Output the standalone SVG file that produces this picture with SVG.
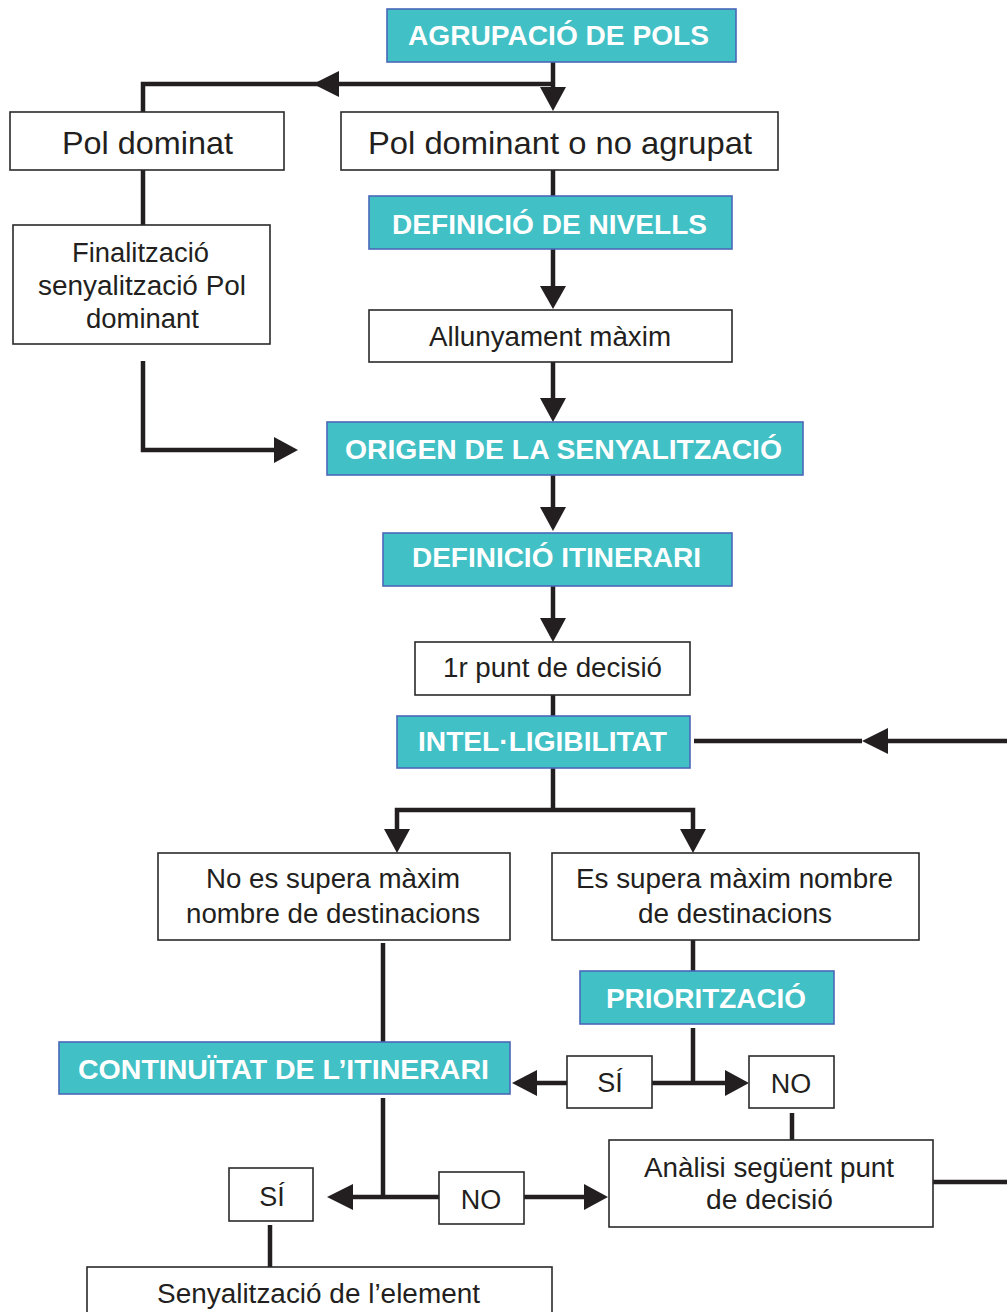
<svg xmlns="http://www.w3.org/2000/svg" width="1007" height="1312" viewBox="0 0 1007 1312">
<style>
.box{fill:#fff;stroke:#2b2a2a;stroke-width:1.6}
.tbox{fill:#41c0c5;stroke:#4a68b8;stroke-width:1.6}
.t{font-family:"Liberation Sans",Arial,sans-serif;font-size:27px;fill:#231f20;text-anchor:middle}
.tb{font-family:"Liberation Sans",Arial,sans-serif;font-size:28px;font-weight:bold;fill:#fff;text-anchor:middle}
.big{font-size:32px}
.ln{fill:none;stroke:#231f20;stroke-width:4.5;stroke-linejoin:miter}
.ah{fill:#231f20}
</style>
<rect width="1007" height="1312" fill="#fff"/>

<g id="connectors">
  <path class="ln" d="M553,60 V89"/>
  <polygon class="ah" points="540,87 566,87 553,111"/>
  <path class="ln" d="M553,84 H143 V112"/>
  <polygon class="ah" points="313,84 339,71 339,97"/>
  <path class="ln" d="M143,170 V225"/>
  <path class="ln" d="M143,361 V450 H276"/>
  <polygon class="ah" points="298,450 274,437 274,463"/>
  <path class="ln" d="M553,170 V196"/>
  <path class="ln" d="M553,249 V288"/>
  <polygon class="ah" points="540,286 566,286 553,309"/>
  <path class="ln" d="M553,362 V400"/>
  <polygon class="ah" points="540,398 566,398 553,422"/>
  <path class="ln" d="M553,475 V509"/>
  <polygon class="ah" points="540,507 566,507 553,531"/>
  <path class="ln" d="M553,586 V620"/>
  <polygon class="ah" points="540,618 566,618 553,642"/>
  <path class="ln" d="M553,695 V716"/>
  <path class="ln" d="M553,768 V810"/>
  <path class="ln" d="M397,832 V810 H693 V832"/>
  <polygon class="ah" points="384,829 410,829 397,853"/>
  <polygon class="ah" points="680,829 706,829 693,853"/>
  <path class="ln" d="M1007,741 H886"/>
  <polygon class="ah" points="862,741 888,728 888,754"/>
  <path class="ln" d="M862,741 H694"/>
  <path class="ln" d="M383,943 V1042"/>
  <path class="ln" d="M693,940 V971"/>
  <path class="ln" d="M693,1028 V1083"/>
  <path class="ln" d="M652,1083 H727"/>
  <polygon class="ah" points="749,1083 725,1070 725,1096"/>
  <path class="ln" d="M567,1083 H535"/>
  <polygon class="ah" points="512,1083 537,1070 537,1096"/>
  <path class="ln" d="M792,1113 V1140"/>
  <path class="ln" d="M933,1182 H1007"/>
  <path class="ln" d="M383,1098 V1197"/>
  <path class="ln" d="M439,1197 H351"/>
  <polygon class="ah" points="327,1197 353,1184 353,1210"/>
  <path class="ln" d="M524,1197 H586"/>
  <polygon class="ah" points="608,1197 584,1184 584,1210"/>
  <path class="ln" d="M270,1225 V1267"/>
</g>

<g id="agrupacio">
  <rect class="tbox" x="387" y="9" width="349" height="53"/>
  <text class="tb" x="558.5" y="45" textLength="301" lengthAdjust="spacingAndGlyphs">AGRUPACIÓ DE POLS</text>
</g>
<g id="pol-dominat">
  <rect class="box" x="10" y="112" width="274" height="58"/>
  <text class="t big" x="147.5" y="154" textLength="171" lengthAdjust="spacingAndGlyphs">Pol dominat</text>
</g>
<g id="pol-dominant">
  <rect class="box" x="341" y="112" width="437" height="58"/>
  <text class="t big" x="560" y="154" textLength="384" lengthAdjust="spacingAndGlyphs">Pol dominant o no agrupat</text>
</g>
<g id="definicio-nivells">
  <rect class="tbox" x="369" y="196" width="363" height="53"/>
  <text class="tb" x="549.5" y="234" textLength="315" lengthAdjust="spacingAndGlyphs">DEFINICIÓ DE NIVELLS</text>
</g>
<g id="finalitzacio">
  <rect class="box" x="13" y="225" width="257" height="119"/>
  <text class="t" x="140.5" y="262" textLength="137" lengthAdjust="spacingAndGlyphs">Finalització</text>
  <text class="t" x="142" y="295" textLength="208" lengthAdjust="spacingAndGlyphs">senyalització Pol</text>
  <text class="t" x="142.5" y="328" textLength="113" lengthAdjust="spacingAndGlyphs">dominant</text>
</g>
<g id="allunyament">
  <rect class="box" x="369" y="310" width="363" height="52"/>
  <text class="t" x="550" y="346" textLength="242" lengthAdjust="spacingAndGlyphs">Allunyament màxim</text>
</g>
<g id="origen">
  <rect class="tbox" x="327" y="422" width="476" height="53"/>
  <text class="tb" x="563.5" y="459" textLength="437" lengthAdjust="spacingAndGlyphs">ORIGEN DE LA SENYALITZACIÓ</text>
</g>
<g id="definicio-itinerari">
  <rect class="tbox" x="383" y="533" width="349" height="53"/>
  <text class="tb" x="556.5" y="567" textLength="289" lengthAdjust="spacingAndGlyphs">DEFINICIÓ ITINERARI</text>
</g>
<g id="punt-decisio">
  <rect class="box" x="415" y="642" width="275" height="53"/>
  <text class="t" x="552.5" y="677" textLength="219" lengthAdjust="spacingAndGlyphs">1r punt de decisió</text>
</g>
<g id="intelligibilitat">
  <rect class="tbox" x="397" y="716" width="293" height="52"/>
  <text class="tb" x="542.5" y="751" textLength="249" lengthAdjust="spacingAndGlyphs">INTEL·LIGIBILITAT</text>
</g>
<g id="no-supera">
  <rect class="box" x="158" y="853" width="352" height="87"/>
  <text class="t" x="333" y="888" textLength="254" lengthAdjust="spacingAndGlyphs">No es supera màxim</text>
  <text class="t" x="333" y="923" textLength="294" lengthAdjust="spacingAndGlyphs">nombre de destinacions</text>
</g>
<g id="supera">
  <rect class="box" x="552" y="853" width="367" height="87"/>
  <text class="t" x="734.5" y="888" textLength="317" lengthAdjust="spacingAndGlyphs">Es supera màxim nombre</text>
  <text class="t" x="735" y="923" textLength="194" lengthAdjust="spacingAndGlyphs">de destinacions</text>
</g>
<g id="priorització">
  <rect class="tbox" x="580" y="971" width="254" height="53"/>
  <text class="tb" x="706" y="1008" textLength="200" lengthAdjust="spacingAndGlyphs">PRIORITZACIÓ</text>
</g>
<g id="continuitat">
  <rect class="tbox" x="59" y="1042" width="451" height="52"/>
  <text class="tb" x="283.5" y="1079" textLength="411" lengthAdjust="spacingAndGlyphs">CONTINUÏTAT DE L’ITINERARI</text>
</g>
<g id="si-prioritzacio">
  <rect class="box" x="567" y="1056" width="85" height="52"/>
  <text class="t" x="610" y="1092">SÍ</text>
</g>
<g id="no-prioritzacio">
  <rect class="box" x="749" y="1056" width="85" height="52"/>
  <text class="t" x="791" y="1093">NO</text>
</g>
<g id="analisi">
  <rect class="box" x="609" y="1140" width="324" height="87"/>
  <text class="t" x="769" y="1177" textLength="250" lengthAdjust="spacingAndGlyphs">Anàlisi següent punt</text>
  <text class="t" x="769.5" y="1209" textLength="127" lengthAdjust="spacingAndGlyphs">de decisió</text>
</g>
<g id="si-continuitat">
  <rect class="box" x="229" y="1168" width="84" height="53"/>
  <text class="t" x="272" y="1206">SÍ</text>
</g>
<g id="no-continuitat">
  <rect class="box" x="439" y="1172" width="85" height="52"/>
  <text class="t" x="481" y="1209">NO</text>
</g>
<g id="senyalitzacio-element">
  <rect class="box" x="87" y="1267" width="465" height="70"/>
  <text class="t" x="318.5" y="1303" textLength="323" lengthAdjust="spacingAndGlyphs">Senyalització de l’element</text>
</g>
</svg>
